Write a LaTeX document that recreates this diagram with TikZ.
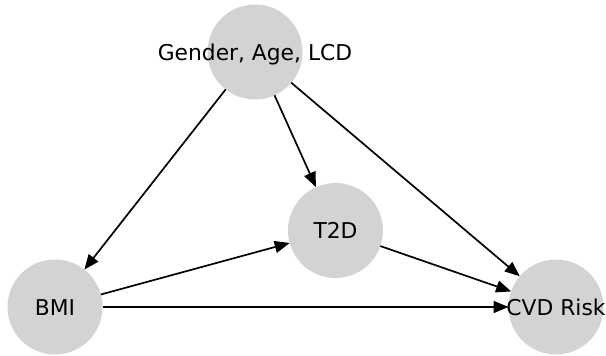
\documentclass[tikz,border=0pt]{standalone}
\usepackage{fontspec}
\setmainfont{DejaVu Sans}
\usetikzlibrary{arrows.meta}
\begin{document}
\begin{tikzpicture}[x=1pt,y=-1pt,
  vertex/.style={circle,fill={rgb,255:red,211;green,211;blue,211},draw=none,minimum size=95pt,inner sep=0pt,outer sep=0pt},
  vlabel/.style={font=\fontsize{21.8}{26}\selectfont,inner sep=0pt,anchor=base},
  edge/.style={line width=1.7pt,-{Triangle[length=15pt,width=12pt]}}]
\useasboundingbox (0,0) rectangle (606,356);
\node[vertex] (g) at (255,52) {};
\node[vertex] (t) at (335.5,230.5) {};
\node[vertex] (b) at (55,307) {};
\node[vertex] (c) at (556,307) {};
\draw[edge] (g) -- (b);
\draw[edge] (g) -- (t);
\draw[edge] (g) -- (c);
\draw[edge] (b) -- (t);
\draw[edge] (b) -- (c);
\draw[edge] (t) -- (c);
\node[vlabel] (gl) at ([yshift=-8pt]g.center) {Gender, Age, LCD};
\node[vlabel] (tl) at ([yshift=-8pt]t.center) {T2D};
\node[vlabel] (bl) at ([yshift=-8pt]b.center) {BMI};
\node[vlabel] (cl) at ([yshift=-8pt]c.center) {CVD Risk};
\end{tikzpicture}
\end{document}
